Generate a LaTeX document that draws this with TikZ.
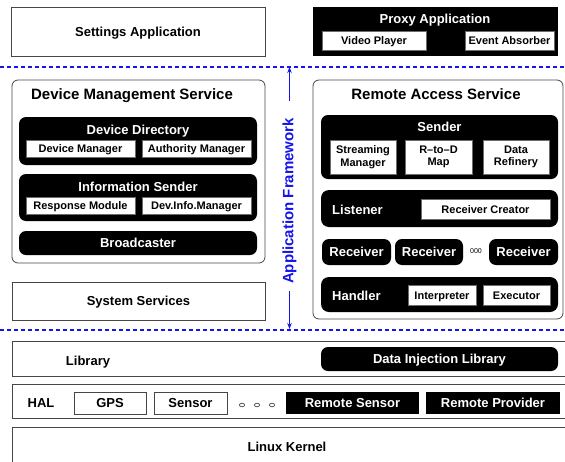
\documentclass[tikz,border=0pt]{standalone}
\usepackage{fontspec}
\setmainfont{Liberation Sans}
\usetikzlibrary{arrows.meta, positioning}
\definecolor{framegray}{RGB}{70, 70, 70}
\definecolor{laneblue}{RGB}{20, 20, 235}
\newcommand{\fsBig}{\fontsize{15}{17}\selectfont\bfseries}
\newcommand{\fsMid}{\fontsize{13}{15}\selectfont\bfseries}
\newcommand{\fsSmall}{\fontsize{11}{12.5}\selectfont\bfseries}

\begin{document}
\begin{tikzpicture}[
    x=1pt, y=-1pt,
    capsM/.style={text height=9.4pt, text depth=0pt},
    capsS/.style={text height=8pt, text depth=0pt},
    layer/.style={draw=framegray, fill=white, line width=0.8pt, inner sep=0pt, font=\fsMid, capsM},
    group/.style={draw=framegray, rounded corners=6pt, line width=0.8pt, inner sep=0pt},
    blk/.style={fill=black, rounded corners=7pt, inner sep=0pt, text=white, font=\fsMid, capsM},
    blksq/.style={fill=black, inner sep=0pt, text=white, font=\fsMid, capsM},
    item/.style={draw=framegray!80, fill=white, line width=0.6pt, inner sep=0pt, font=\fsSmall, capsS},
    twoline/.style={draw=framegray!80, fill=white, line width=0.6pt, inner sep=0pt, font=\fsSmall, align=center},
    hwitem/.style={draw=framegray, fill=white, line width=0.8pt, inner sep=0pt, font=\fsMid, capsM},
    title/.style={inner sep=0pt, font=\fsMid, capsM},
    bigtitle/.style={inner sep=0pt, font=\fsBig, text height=10.8pt, text depth=0pt},
    lane/.style={laneblue, line width=1.3pt, dash pattern=on 4pt off 3pt},
    framearrow/.style={-{Stealth[length=6pt, width=4.5pt]}, laneblue, line width=0.8pt}
]
\useasboundingbox (0,0) rectangle (565,461);
\clip (0,0) rectangle (565,461);

% Applications
\node[layer, minimum width=254, minimum height=49] (settings) at (138,31.5) {Settings Application};
\node[blksq, minimum width=245, minimum height=49] (proxy) at (435.5,31.5) {};
\node[title, text=white] (proxytitle) at (435,19) {Proxy Application};
\node[item, minimum width=104, minimum height=19] (video) at (374,40.5) {Video Player};
\node[item, minimum width=89, minimum height=19] (absorber) at (509.5,40.5) {Event Absorber};

% Lane borders
\coordinate (laneAl) at (0,67);
\coordinate (laneAr) at (565,67);
\coordinate (laneBl) at (0,330);
\coordinate (laneBr) at (565,330);
\draw[lane] (laneAl) -- (laneAr);
\draw[lane] (laneBl) -- (laneBr);

% Device Management Service
\node[group, minimum width=253, minimum height=183] (dms) at (138.5,171.5) {};
\node[bigtitle] (dmstitle) at (132,94) {Device Management Service};

\node[blk, minimum width=238, minimum height=48] (devdir) at (138,141) {};
\node[title, text=white] (devdirtitle) at (138,129.5) {Device Directory};
\node[item, minimum width=109, minimum height=17] (devmgr) at (80.5,148.5) {Device Manager};
\node[item, minimum width=109, minimum height=17] (authmgr) at (196.5,148.5) {Authority Manager};

\node[blk, minimum width=238, minimum height=47] (infosend) at (138,197.5) {};
\node[title, text=white] (infosendtitle) at (138,186.5) {Information Sender};
\node[item, minimum width=109, minimum height=17] (respmod) at (80.5,205.5) {Response Module};
\node[item, minimum width=109, minimum height=17] (devinfo) at (196.5,205.5) {Dev.Info.Manager};

\node[blk, minimum width=238, minimum height=24] (broadcaster) at (138,243) {Broadcaster};

% System Services
\node[layer, minimum width=253, minimum height=38] (syssvc) at (138.5,301) {System Services};

% Application Framework
\node[inner sep=0pt, rotate=90, laneblue, font=\fsBig] (framework) at (289.5,201) {Application Framework};
\coordinate (fwtop) at (289.5,67);
\coordinate (fwbot) at (289.5,329);
\draw[framearrow, shorten <=17pt] (framework.east) -- (fwtop);
\draw[framearrow, shorten <=7pt] (framework.west) -- (fwbot);

% Remote Access Service
\node[group, minimum width=250, minimum height=239] (ras) at (438,199.5) {};
\node[bigtitle] (rastitle) at (436,94) {Remote Access Service};

\node[blk, minimum width=237, minimum height=64] (sender) at (439.5,147) {};
\node[title, text=white] (sendertitle) at (439.5,127) {Sender};
\node[twoline, minimum width=66, minimum height=34] (streaming) at (363,157) {Streaming\\Manager};
\node[twoline, minimum width=67, minimum height=34] (rtod) at (438.5,157) {R--to--D\\Map};
\node[twoline, minimum width=66, minimum height=34] (refinery) at (516,157) {Data\\Refinery};

\node[blk, rounded corners=8pt, minimum width=237, minimum height=37] (listener) at (439.5,208.5) {};
\node[title, text=white, anchor=west] (listenertitle) at (332,209.5) {Listener};
\node[item, minimum width=129, minimum height=20] (creator) at (485.5,209) {Receiver Creator};

\node[blk, minimum width=69, minimum height=26] (recvA) at (356.5,252) {Receiver};
\node[blk, minimum width=68, minimum height=26] (recvB) at (429,252) {Receiver};
\node[inner sep=0pt, font=\fontsize{7}{8}\selectfont] (recvdots) at (476,251) {000};
\node[blk, minimum width=69, minimum height=26] (recvC) at (523.5,252) {Receiver};

\node[blk, rounded corners=8pt, minimum width=237, minimum height=35] (handler) at (439.5,294.5) {};
\node[title, text=white, anchor=west] (handlertitle) at (332,295.5) {Handler};
\node[item, minimum width=68, minimum height=20] (interp) at (442,295) {Interpreter};
\node[item, minimum width=67, minimum height=20] (executor) at (516.5,295) {Executor};

% Library
\node[layer, minimum width=588, minimum height=35] (library) at (306,358.5) {};
\node[title] (librarytitle) at (88,361) {Library};
\node[blk, minimum width=237, minimum height=24] (datainj) at (439.5,359) {Data Injection Library};

% HAL
\node[layer, minimum width=588, minimum height=34] (hal) at (306,401) {};
\node[title] (haltitle) at (41,403) {HAL};
\node[hwitem, minimum width=72, minimum height=22] (gps) at (110,403) {GPS};
\node[hwitem, minimum width=73, minimum height=22] (sensor) at (190.5,403) {Sensor};
\foreach \dx in {242,257,272}
    \draw[framegray, line width=0.7pt] (\dx,405) ellipse (2.6 and 1.8);
\node[blksq, minimum width=133, minimum height=22] (remsensor) at (352.5,403) {Remote Sensor};
\node[blksq, minimum width=134, minimum height=22] (remprov) at (493,403) {Remote Provider};

% Linux Kernel
\node[layer, minimum width=588, minimum height=73] (kernel) at (306,463.5) {};
\node[title] (kerneltitle) at (287,447) {Linux Kernel};

\end{tikzpicture}
\end{document}
